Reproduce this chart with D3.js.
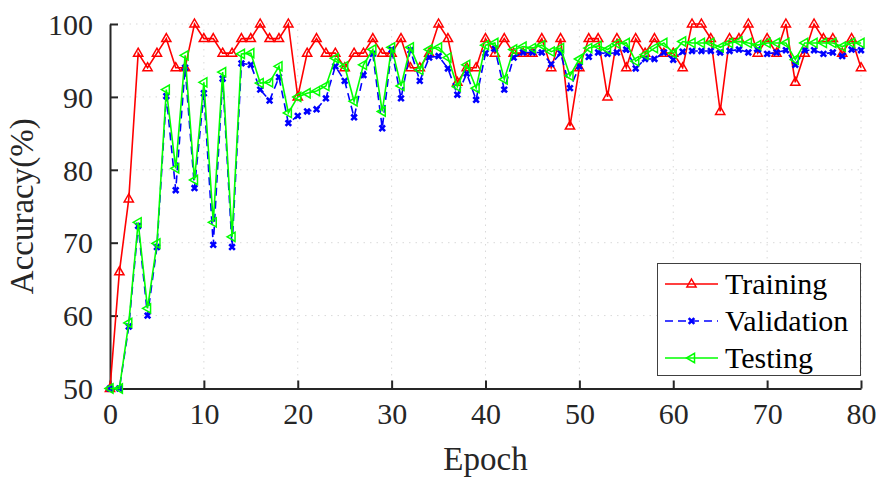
<!DOCTYPE html>
<html>
<head>
<meta charset="utf-8">
<script src="https://cdn.jsdelivr.net/npm/d3@7"></script>
<style>
  body { margin: 0; background: #fff; }
  svg text { font-family: "Liberation Serif", "Times New Roman", serif; }
</style>
</head>
<body>
<div id="chart"></div>
<script>
var WIDTH = 878;
var HEIGHT = 478;
var MARGIN = {left: 110, right: 17, top: 24, bottom: 89.5};

// data, one value per epoch (epoch = index)
var TRAINING = [
    50, 66, 76, 96, 94, 96, 98, 94, 94, 100,
    98, 98, 96, 96, 98, 98, 100, 98, 98, 100,
    90, 96, 98, 96, 96, 94, 96, 96, 98, 96,
    96, 98, 94, 94, 96, 100, 98, 92, 94, 94,
    98, 96, 98, 96, 96, 96, 98, 94, 98, 86,
    94, 98, 98, 90, 98, 94, 98, 96, 98, 96,
    96, 94, 100, 100, 98, 88, 98, 98, 100, 96,
    98, 96, 100, 92, 96, 100, 98, 98, 96, 98,
    94
];
var VALIDATION = [
    50, 50, 58.5, 72.3, 60, 69.4, 90.1, 77.2, 94, 77.5,
    90.5, 69.7, 92.5, 69.4, 94.6, 94.4, 91, 89.5, 92.7, 86.4,
    87.4, 88, 88.3, 89.8, 94.2, 92.2, 87.2, 93, 95.9, 85.7,
    96.5, 89.8, 96.4, 92.2, 95.4, 95.6, 93.9, 90.3, 93.2, 89.6,
    96, 96.6, 91, 95.4, 96.1, 96.1, 96.1, 94.5, 96, 91.2,
    94.2, 95.5, 96.1, 95.9, 96.1, 96.5, 93.9, 95.2, 95.2, 96.1,
    95.1, 96.2, 96.3, 96.3, 96.3, 96.1, 96.3, 96.5, 96.1, 96.5,
    95.9, 96.1, 96.4, 94.4, 96.4, 96.4, 95.9, 96.1, 95.6, 96.5,
    96.4
];
var TESTING = [
    50, 50, 59, 72.8, 61, 69.9, 91, 80.2, 95.7, 78.6,
    92, 72.8, 93.4, 70.8, 95.9, 96, 91.9, 92, 94.2, 87.8,
    90, 90.5, 90.8, 91.5, 95.3, 94.2, 89.4, 94.4, 96.5, 88,
    96.8, 91.5, 96.8, 93.7, 96.5, 96.8, 95.4, 91.4, 94.4, 91.2,
    97.1, 97.4, 92.4, 96.5, 96.9, 96.7, 97.1, 96.2, 96.7, 92.9,
    95.2, 96.7, 97, 96.5, 97.3, 97.4, 94.9, 95.8, 96.7, 97.4,
    96, 97.6, 97.4, 97.4, 97.4, 96.8, 97.4, 97.6, 97.4, 97.1,
    97.4, 97.4, 97.4, 95.1, 97.4, 97.4, 97.4, 97.4, 96.9, 97.4,
    97.4
];
var SERIES_NAMES = ["Training", "Validation", "Testing"];
var X_TICKS = [0, 10, 20, 30, 40, 50, 60, 70, 80];
var Y_TICKS = [50, 60, 70, 80, 90, 100];

var AXIS_COLOR = "#262626";

function marker_path(kind) {
    if (kind === "up") return "M0,-5L4.6,3L-4.6,3Z";
    if (kind === "left") return "M-5,0L3,-4.6L3,4.6Z";
    return "M-2.8,-2.8L2.8,2.8M-2.8,2.8L2.8,-2.8";
}

var STYLES = [
    {color: "#ff0000", dash: null, marker: "up"},
    {color: "#0000ff", dash: "8,5", marker: "x"},
    {color: "#00ff00", dash: null, marker: "left"}
];

function draw_marker(sel, st) {
    sel.attr("d", marker_path(st.marker))
        .attr("fill", "none")
        .attr("stroke", st.color)
        .attr("stroke-width", st.marker === "x" ? 2.6 : 1.5);
}

function init() {
    var svg = d3.select("#chart").append("svg")
        .attr("width", WIDTH)
        .attr("height", HEIGHT)
        .style("display", "block");

    svg.append("rect").attr("width", WIDTH).attr("height", HEIGHT).attr("fill", "#fff");

    var x = d3.scaleLinear().domain([0, 80]).range([MARGIN.left, WIDTH - MARGIN.right]);
    var y = d3.scaleLinear().domain([50, 100]).range([HEIGHT - MARGIN.bottom, MARGIN.top]);

    // grid
    var grid = svg.append("g").attr("class", "grid")
        .attr("stroke", "#d9d9d9").attr("stroke-width", 1).attr("stroke-dasharray", "1.5,5");
    grid.selectAll("line.gx").data(X_TICKS.filter(d => d > 0)).enter().append("line")
        .attr("x1", d => x(d)).attr("x2", d => x(d))
        .attr("y1", y(50)).attr("y2", y(100));
    grid.selectAll("line.gy").data(Y_TICKS.filter(d => d > 50)).enter().append("line")
        .attr("x1", x(0)).attr("x2", x(80))
        .attr("y1", d => y(d)).attr("y2", d => y(d));

    // axes
    var x_axis = d3.axisBottom(x).tickValues(X_TICKS).tickSizeInner(-8).tickSizeOuter(0).tickPadding(14);
    var y_axis = d3.axisLeft(y).tickValues(Y_TICKS).tickSizeInner(-8).tickSizeOuter(0).tickPadding(17);

    var gx = svg.append("g")
        .attr("transform", `translate(0,${y(50)})`)
        .call(x_axis);
    var gy = svg.append("g")
        .attr("transform", `translate(${x(0)},0)`)
        .call(y_axis);

    [gx, gy].forEach(g => {
        g.select(".domain").attr("stroke", AXIS_COLOR).attr("stroke-width", 2);
        g.selectAll(".tick line").attr("stroke", AXIS_COLOR).attr("stroke-width", 2);
        g.selectAll(".tick text")
            .attr("fill", AXIS_COLOR)
            .style("font-size", "30px")
            .style("font-family", "'Liberation Serif', 'Times New Roman', serif");
    });
    gy.selectAll(".tick text").attr("dy", "0.34em");
    gx.selectAll(".tick text").attr("dy", "0.72em");

    // axis labels
    svg.append("text")
        .attr("x", (x(0) + x(80)) / 2)
        .attr("y", 470)
        .attr("text-anchor", "middle")
        .attr("fill", AXIS_COLOR)
        .style("font-size", "33px")
        .text("Epoch");

    svg.append("text")
        .attr("transform", `translate(33,${(y(50) + y(100)) / 2}) rotate(-90)`)
        .attr("text-anchor", "middle")
        .attr("fill", AXIS_COLOR)
        .style("font-size", "33px")
        .text("Accuracy(%)");

    // series
    var all_series = [TRAINING, VALIDATION, TESTING];
    var line = d3.line().x((d, i) => x(i)).y(d => y(d));
    var plot = svg.append("g").attr("class", "series");

    all_series.forEach((values, k) => {
        var st = STYLES[k];
        var g = plot.append("g");
        g.append("path")
            .datum(values)
            .attr("d", line)
            .attr("fill", "none")
            .attr("stroke", st.color)
            .attr("stroke-width", 1.6)
            .attr("stroke-dasharray", st.dash);
        g.selectAll("path.mk").data(values).enter().append("path")
            .attr("class", "mk")
            .attr("transform", (d, i) => `translate(${x(i)},${y(d)})`)
            .call(draw_marker, st);
    });

    // legend
    var legend = svg.append("g").attr("class", "legend");
    legend.append("rect")
        .attr("x", 657.5).attr("y", 263.5)
        .attr("width", 203).attr("height", 112)
        .attr("fill", "#fff")
        .attr("stroke", "#404040")
        .attr("stroke-width", 1);

    SERIES_NAMES.forEach((name, k) => {
        var st = STYLES[k];
        var ly = 284 + k * 37;
        legend.append("line")
            .attr("x1", 665).attr("x2", 718)
            .attr("y1", ly).attr("y2", ly)
            .attr("stroke", st.color)
            .attr("stroke-width", 1.6)
            .attr("stroke-dasharray", st.dash);
        legend.append("path")
            .attr("transform", `translate(691.5,${ly})`)
            .call(draw_marker, st);
        legend.append("text")
            .attr("x", 725)
            .attr("y", ly + 10)
            .attr("fill", "#000")
            .style("font-size", "30px")
            .text(name);
    });
}

init();
</script>
</body>
</html>
